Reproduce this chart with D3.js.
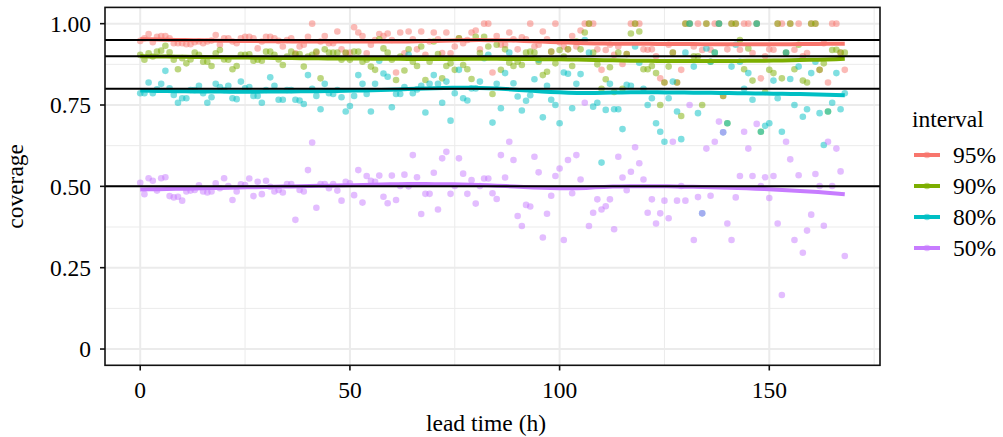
<!DOCTYPE html>
<html>
<head>
<meta charset="utf-8">
<script src="https://cdn.jsdelivr.net/npm/d3@7"></script>
<style>
  body { margin: 0; background: #fff; }
  svg text { font-family: "Liberation Serif", "Times New Roman", serif; fill: #000; }
</style>
</head>
<body>
<svg id="chart" width="1003" height="437"></svg>
<script>
// lead time in hours, one point per hour
var leadTime = d3.range(0, 169);

var cov95 = [0.947,0.955,0.968,0.943,0.96,0.962,0.962,0.955,0.94,0.94,
  0.94,0.937,0.937,0.943,0.945,0.94,0.945,0.948,0.965,0.935,
  0.955,0.955,0.945,0.94,0.955,0.96,0.96,0.955,0.924,0.945,
  0.96,0.96,0.955,0.947,0.93,0.95,0.955,0.909,0.93,0.935,
  0.96,1.0,0.911,0.945,0.962,0.94,0.94,0.976,0.921,0.909,
  0.911,0.989,0.973,0.962,0.909,0.935,0.95,0.968,0.962,0.97,
  0.95,0.85,0.973,0.909,0.976,0.952,0.921,0.976,0.904,0.945,
  0.973,0.952,0.91,0.973,0.909,0.93,0.955,0.94,0.95,0.973,
  0.979,0.921,1.0,1.0,0.85,0.962,0.935,0.935,0.973,0.952,
  0.921,0.958,0.952,1.0,0.93,0.935,0.976,0.952,0.914,1.0,
  0.943,0.93,0.921,0.962,0.93,0.979,1.0,1.0,1.0,0.921,
  0.858,0.919,0.935,0.904,0.93,0.876,0.907,1.0,1.0,1.0,
  0.921,0.92,0.921,0.9,0.832,0.819,0.935,0.911,0.819,0.858,
  1.0,1.0,0.93,1.0,0.919,1.0,0.92,1.0,1.0,0.778,
  0.921,1.0,1.0,0.92,1.0,1.0,0.91,1.0,0.832,0.9,
  0.921,0.92,1.0,1.0,0.91,1.0,0.92,1.0,0.9,0.91,
  1.0,1.0,0.858,0.94,0.819,1.0,1.0,0.911,0.858];

var cov90 = [0.904,0.889,0.909,0.899,0.914,0.917,0.932,0.912,0.889,0.86,
  0.894,0.878,0.89,0.911,0.904,0.883,0.883,0.87,0.909,0.919,
  0.89,0.889,0.86,0.87,0.904,0.904,0.906,0.886,0.889,0.886,
  0.914,0.914,0.904,0.89,0.873,0.899,0.914,0.906,0.907,0.868,
  0.899,0.904,0.914,0.832,0.921,0.911,0.911,0.911,0.889,0.911,
  0.889,0.914,0.914,0.883,0.889,0.868,0.858,0.952,0.924,0.911,
  0.889,0.827,0.899,0.856,0.921,0.883,0.87,0.93,0.827,0.883,
  0.945,0.907,0.832,0.87,0.878,0.858,0.955,0.873,0.86,0.83,
  0.96,0.91,0.96,0.93,0.784,0.935,0.858,0.921,0.88,0.87,
  0.883,0.873,0.911,0.914,0.911,0.883,0.842,0.852,0.914,0.878,
  0.919,0.899,0.921,0.87,0.945,0.921,0.973,1.0,0.911,0.875,
  0.8,0.829,0.866,0.79,0.911,0.8,0.907,0.97,1.0,0.976,
  0.86,0.86,0.87,0.848,0.75,0.819,0.868,0.911,0.819,0.716,
  1.0,1.0,0.9,0.9,0.75,1.0,0.883,0.911,1.0,0.778,
  0.694,1.0,1.0,0.95,0.86,0.924,0.825,1.0,0.668,0.79,
  0.858,0.848,1.0,0.832,0.911,1.0,0.86,0.935,0.825,0.819,
  1.0,1.0,0.858,0.878,0.73,0.919,0.92,0.911,0.911];

var cov80 = [0.786,0.786,0.819,0.786,0.798,0.815,0.855,0.801,0.781,0.757,
  0.771,0.771,0.796,0.796,0.809,0.786,0.757,0.774,0.815,0.805,
  0.796,0.809,0.771,0.768,0.822,0.801,0.805,0.778,0.778,0.757,
  0.796,0.835,0.809,0.766,0.766,0.796,0.796,0.766,0.764,0.753,
  0.842,0.8,0.778,0.737,0.815,0.786,0.784,0.796,0.774,0.73,
  0.747,0.778,0.842,0.815,0.784,0.73,0.815,0.886,0.847,0.837,
  0.743,0.784,0.784,0.805,0.904,0.786,0.798,0.809,0.727,0.815,
  0.842,0.815,0.757,0.822,0.702,0.786,0.858,0.771,0.764,0.801,
  0.801,0.822,0.894,0.904,0.696,0.815,0.74,0.848,0.911,0.817,
  0.776,0.733,0.763,0.78,0.829,0.889,0.712,0.809,0.766,0.75,
  0.694,0.85,0.846,0.74,0.815,0.845,0.95,0.911,0.745,0.757,
  0.573,0.735,0.815,0.737,0.737,0.676,0.812,0.809,0.93,0.88,
  0.8,0.75,0.771,0.694,0.668,0.637,0.771,0.822,0.73,0.645,
  0.911,1.0,0.868,0.725,0.417,0.924,0.883,0.911,1.0,0.666,
  0.694,0.868,0.935,0.883,0.8,0.848,0.766,1.0,0.668,0.686,
  0.694,0.825,0.771,0.668,0.911,0.83,0.75,0.868,0.714,0.737,
  0.848,0.883,0.725,0.627,0.73,0.757,0.848,0.737,0.786];

var cov50 = [0.511,0.476,0.525,0.517,0.487,0.525,0.528,0.47,0.466,0.468,
  0.456,0.484,0.487,0.489,0.503,0.484,0.481,0.484,0.509,0.494,
  0.525,0.501,0.458,0.484,0.506,0.504,0.524,0.47,0.514,0.476,
  0.517,0.499,0.484,0.489,0.481,0.507,0.507,0.397,0.489,0.484,
  0.55,0.635,0.434,0.507,0.507,0.494,0.507,0.487,0.456,0.514,
  0.509,0.473,0.55,0.45,0.532,0.517,0.514,0.533,0.468,0.448,
  0.533,0.458,0.501,0.536,0.5,0.596,0.528,0.415,0.477,0.477,
  0.542,0.429,0.586,0.606,0.477,0.501,0.586,0.539,0.477,0.519,
  0.447,0.501,0.524,0.524,0.479,0.461,0.596,0.527,0.637,0.581,
  0.409,0.378,0.443,0.438,0.591,0.543,0.343,0.416,0.471,0.532,
  0.555,0.335,0.581,0.479,0.596,0.521,0.757,0.378,0.419,0.46,
  0.429,0.439,0.46,0.368,0.591,0.527,0.488,0.545,0.62,0.571,
  0.521,0.419,0.46,0.386,0.417,0.456,0.402,0.637,0.456,0.501,
  0.456,0.75,0.335,0.467,0.417,0.616,0.471,0.637,0.699,0.666,
  0.386,0.335,0.466,0.532,0.668,0.616,0.532,0.692,0.501,0.528,
  0.464,0.532,0.386,0.166,0.637,0.583,0.335,0.534,0.296,0.364,
  0.413,0.538,0.501,0.379,0.637,0.501,0.616,0.546,0.286];

var intervals = ["95%", "90%", "80%", "50%"];
var nominal = [0.95, 0.9, 0.8, 0.5];
var colors = ["#F8766D", "#7CAE00", "#00BFC4", "#C77CFF"];
var yTicks = [0, 0.25, 0.5, 0.75, 1];
var yTickLabels = ["0", "0.25", "0.50", "0.75", "1.00"];
var xTicks = [0, 50, 100, 150];

var series = [cov95, cov90, cov80, cov50];

// loess, degree 2, tricube weights (what geom_smooth uses for n < 1000)
function loess(xs, ys, span, xout) {
    var n = xs.length, q = Math.floor(n * span);
    return xout.map(function (x0) {
        var d = xs.map(function (v) { return Math.abs(v - x0); });
        var h = d.slice().sort(function (a, b) { return a - b; })[q - 1];
        var s = [0, 0, 0, 0, 0], t = [0, 0, 0];
        for (var i = 0; i < n; i++) {
            var r = d[i] / h;
            if (r >= 1) continue;
            var w = Math.pow(1 - r * r * r, 3), u = xs[i] - x0, p = w;
            for (var k = 0; k < 5; k++) {
                s[k] += p;
                if (k < 3) t[k] += p * ys[i];
                p *= u;
            }
        }
        // solve the 3x3 normal equations, keep the intercept
        var a = s[0], b = s[1], c = s[2], e = s[3], f = s[4];
        var det = a * (c * f - e * e) - b * (b * f - e * c) + c * (b * e - c * c);
        var det0 = t[0] * (c * f - e * e) - b * (t[1] * f - e * t[2]) + c * (t[1] * e - c * t[2]);
        return det0 / det;
    });
}

var svg = d3.select("#chart");

var x = d3.scaleLinear().domain([-8.4, 176.4]).range([105, 880]);
var y = d3.scaleLinear().domain([-0.05, 1.05]).range([365.3, 7.4]);

// grid
var grid = svg.append("g");
grid.selectAll(".ymin").data([0.125, 0.375, 0.625, 0.875]).enter().append("line")
    .attr("x1", x.range()[0]).attr("x2", x.range()[1])
    .attr("y1", function (d) { return y(d); }).attr("y2", function (d) { return y(d); })
    .attr("stroke", "#ebebeb").attr("stroke-width", 1);
grid.selectAll(".xmin").data([25, 75, 125, 175]).enter().append("line")
    .attr("y1", y.range()[0]).attr("y2", y.range()[1])
    .attr("x1", function (d) { return x(d); }).attr("x2", function (d) { return x(d); })
    .attr("stroke", "#ebebeb").attr("stroke-width", 1);
grid.selectAll(".ymaj").data(yTicks).enter().append("line")
    .attr("x1", x.range()[0]).attr("x2", x.range()[1])
    .attr("y1", function (d) { return y(d); }).attr("y2", function (d) { return y(d); })
    .attr("stroke", "#ebebeb").attr("stroke-width", 2);
grid.selectAll(".xmaj").data(xTicks).enter().append("line")
    .attr("y1", y.range()[0]).attr("y2", y.range()[1])
    .attr("x1", function (d) { return x(d); }).attr("x2", function (d) { return x(d); })
    .attr("stroke", "#ebebeb").attr("stroke-width", 2);

// points
series.forEach(function (vals, si) {
    svg.append("g").selectAll("circle")
        .data(vals)
        .enter()
        .append("circle")
        .attr("cx", function (d, i) { return x(leadTime[i]); })
        .attr("cy", function (d) { return y(d); })
        .attr("r", 3.3)
        .attr("fill", colors[si])
        .attr("fill-opacity", 0.5);
});

// smooth lines
var xout = d3.range(0, 80).map(function (i) { return 168 * i / 79; });
var line = d3.line()
    .x(function (d) { return x(d[0]); })
    .y(function (d) { return y(d[1]); });
series.forEach(function (vals, si) {
    var fit = loess(leadTime, vals, 0.75, xout);
    svg.append("path")
        .datum(xout.map(function (v, i) { return [v, fit[i]]; }))
        .attr("d", line)
        .attr("fill", "none")
        .attr("stroke", colors[si])
        .attr("stroke-width", 4);
});

// nominal coverage
svg.selectAll(".nominal").data(nominal).enter().append("line")
    .attr("x1", x.range()[0]).attr("x2", x.range()[1])
    .attr("y1", function (d) { return y(d); }).attr("y2", function (d) { return y(d); })
    .attr("stroke", "#000").attr("stroke-width", 2);

// panel border
svg.append("rect")
    .attr("x", 105).attr("y", 7.4)
    .attr("width", 775).attr("height", 365.3 - 7.4)
    .attr("fill", "none").attr("stroke", "#111").attr("stroke-width", 1.6);

// y axis
svg.selectAll(".ytick").data(yTicks).enter().append("line")
    .attr("x1", 100).attr("x2", 105)
    .attr("y1", function (d) { return y(d); }).attr("y2", function (d) { return y(d); })
    .attr("stroke", "#111").attr("stroke-width", 1.6);
svg.selectAll(".ylab").data(yTicks).enter().append("text")
    .attr("x", 91)
    .attr("y", function (d) { return y(d); })
    .attr("dy", "0.35em")
    .attr("text-anchor", "end")
    .style("font-size", "23.5px")
    .text(function (d, i) { return yTickLabels[i]; });
svg.append("text")
    .attr("transform", "translate(22.5," + ((7.4 + 365.3) / 2) + ") rotate(-90)")
    .attr("text-anchor", "middle")
    .style("font-size", "23.5px")
    .text("coverage");

// x axis
svg.selectAll(".xtick").data(xTicks).enter().append("line")
    .attr("y1", 365.3).attr("y2", 370.5)
    .attr("x1", function (d) { return x(d); }).attr("x2", function (d) { return x(d); })
    .attr("stroke", "#111").attr("stroke-width", 1.6);
svg.selectAll(".xlab").data(xTicks).enter().append("text")
    .attr("x", function (d) { return x(d); })
    .attr("y", 397.5)
    .attr("text-anchor", "middle")
    .style("font-size", "23.5px")
    .text(function (d) { return d; });
svg.append("text")
    .attr("x", 486)
    .attr("y", 431)
    .attr("text-anchor", "middle")
    .style("font-size", "23.5px")
    .text("lead time (h)");

// legend
var legend = svg.append("g");
legend.append("text")
    .attr("x", 912).attr("y", 127)
    .style("font-size", "23.5px")
    .text("interval");
var keys = legend.selectAll(".key").data(intervals).enter().append("g")
    .attr("transform", function (d, i) { return "translate(0," + (155 + i * 31) + ")"; });
keys.append("line")
    .attr("x1", 914).attr("x2", 940)
    .attr("stroke", function (d, i) { return colors[i]; })
    .attr("stroke-width", 4);
keys.append("circle")
    .attr("cx", 927).attr("r", 3.3)
    .attr("fill", function (d, i) { return colors[i]; })
    .attr("fill-opacity", 0.5);
keys.append("text")
    .attr("x", 953).attr("dy", "0.35em")
    .style("font-size", "23.5px")
    .text(function (d) { return d; });
</script>
</body>
</html>
